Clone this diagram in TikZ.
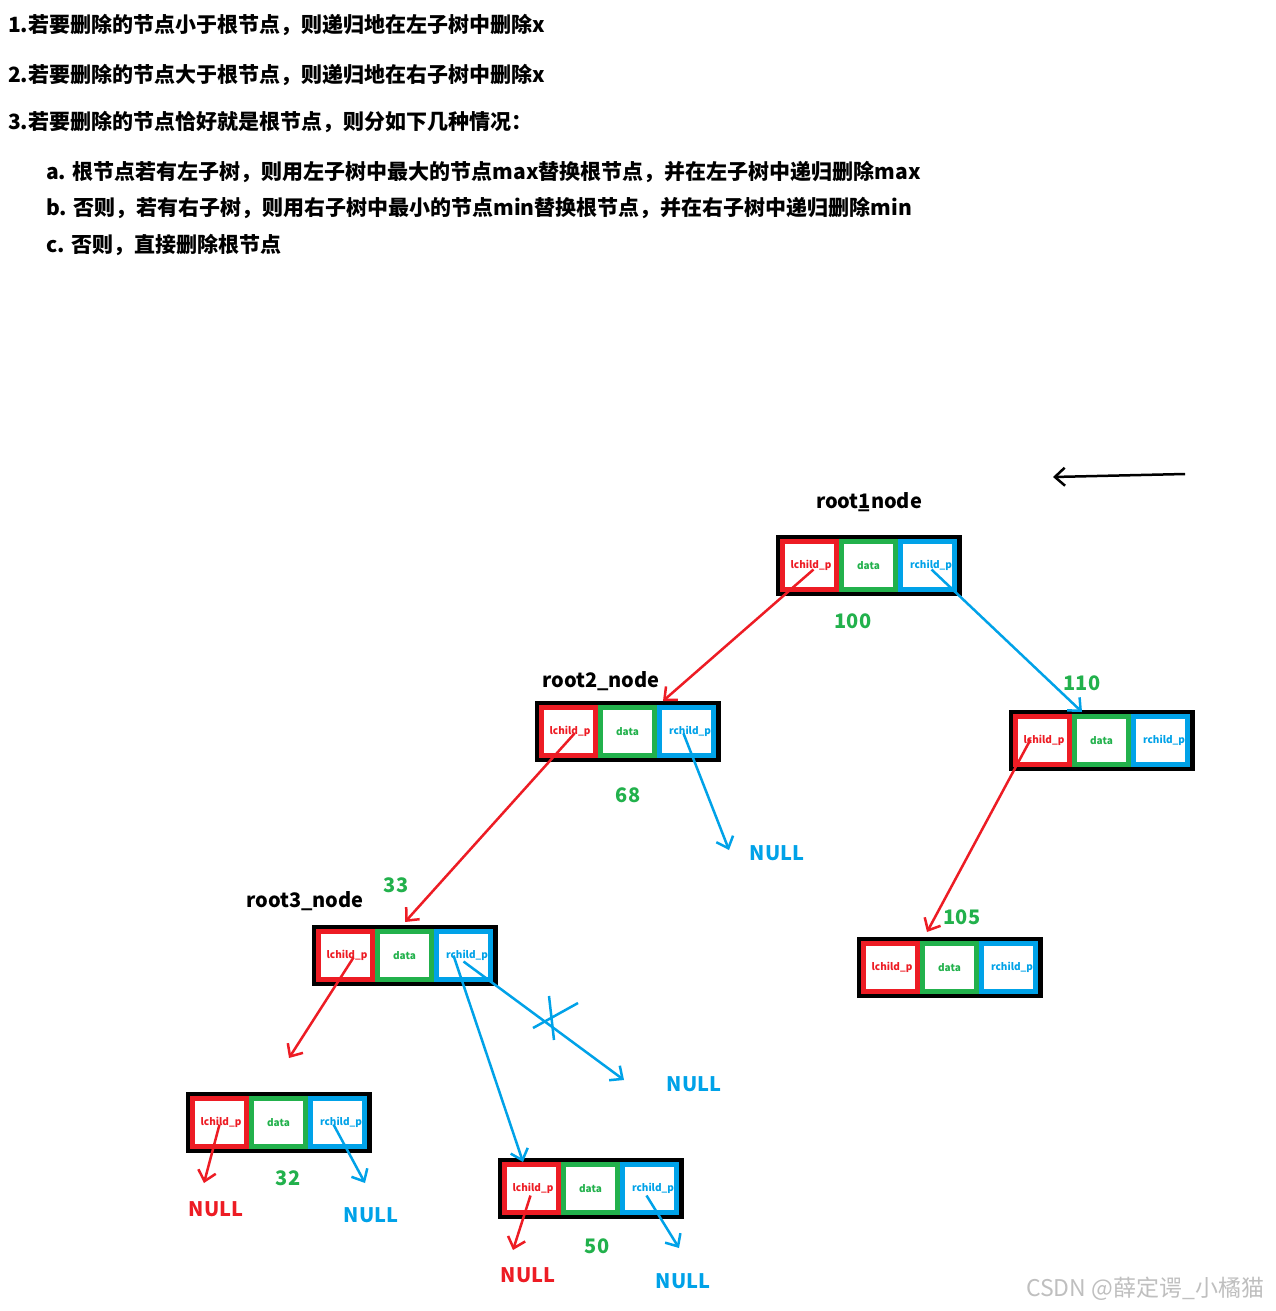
\documentclass[tikz,border=0pt]{standalone}
\usepackage{fontspec}
\setmainfont{Noto Sans CJK SC}
\usetikzlibrary{arrows.meta,calc}
\definecolor{pred}{RGB}{237,28,36}
\definecolor{pgreen}{RGB}{34,177,76}
\definecolor{pblue}{RGB}{0,162,232}
\tikzset{
  outerbox/.style={draw=black,line width=5pt,minimum width=181pt,minimum height=56pt,inner sep=0pt},
  sq/.style={line width=5pt,minimum width=54pt,minimum height=48pt,inner sep=0pt,fill=white,
    font=\fontsize{10}{12}\selectfont\bfseries},
  lsq/.style={sq,draw=pred,text=pred},
  dsq/.style={sq,draw=pgreen,text=pgreen},
  rsq/.style={sq,draw=pblue,text=pblue},
  lab/.style={font=\fontsize{20}{24}\selectfont\bfseries,inner sep=0pt},
  num/.style={lab,text=pgreen},
  rnull/.style={lab,text=pred},
  bnull/.style={lab,text=pblue},
  hdr/.style={font=\fontsize{21}{24}\selectfont\bfseries,inner sep=0pt,anchor=west},
  tip/.style={-{Straight Barb[length=10pt,width=18pt,line width=2.5pt]}},
  ra/.style={draw=pred,line width=2.5pt,tip},
  ba/.style={draw=pblue,line width=2.5pt,tip},
}
\newcommand\treenode[3]{%
  \node[outerbox] (#1) at (#2+93,#3+30.5) {};
  \node[lsq] (#1l) at (#2+33.5,#3+30.5) {\raisebox{-1pt}{\hspace*{3pt}lchild\_p}};
  \node[dsq] (#1d) at (#2+92.5,#3+30.5) {data};
  \node[rsq] (#1r) at (#2+151.5,#3+30.5) {\raisebox{-3pt}{\hspace*{7pt}rchild\_p}};
}
\begin{document}
\begin{tikzpicture}[x=1pt,y=-1pt]
\useasboundingbox[fill=white] (0,0) rectangle (1275,1311);
% header
\node[hdr] (h1) at (8,25) {1.若要删除的节点小于根节点，则递归地在左子树中删除x};
\node[hdr] (h2) at (8,75) {2.若要删除的节点大于根节点，则递归地在右子树中删除x};
\node[hdr] (h3) at (8,122) {3.若要删除的节点恰好就是根节点，则分如下几种情况：};
\node[hdr] (ha) at (46,172) {a. 根节点若有左子树，则用左子树中最大的节点max替换根节点，并在左子树中递归删除max};
\node[hdr] (hb) at (46,208) {b. 否则，若有右子树，则用右子树中最小的节点min替换根节点，并在右子树中递归删除min};
\node[hdr] (hc) at (46,245) {c. 否则，直接删除根节点};
% tree nodes
\treenode{na}{776}{535}
\treenode{nb}{535}{701}
\treenode{nc}{1009}{710}
\treenode{nd}{312}{925}
\treenode{ne}{186}{1092}
\treenode{nf}{498}{1158}
\treenode{ng}{857}{937}
% labels
\node[lab] (la) at (869,502) {root\rlap{\_}1node};
\node[num] (va) at (853,621) {100};
\node[lab] (lb) at (601,681) {root2\_node};
\node[num] (vb) at (628,795) {68};
\node[num] (vc) at (1082,683) {110};
\node[num] (vd) at (396,885) {33};
\node[lab] (ld) at (305,901) {root3\_node};
\node[num] (vg) at (962,917) {105};
\node[num] (ve) at (288,1178) {32};
\node[num] (vf) at (597,1246) {50};
\node[bnull] (n1) at (777,853) {NULL};
\node[bnull] (n2) at (694,1084) {NULL};
\node[rnull] (n3) at (216,1209) {NULL};
\node[bnull] (n4) at (371,1215) {NULL};
\node[rnull] (n5) at (528,1275) {NULL};
\node[bnull] (n6) at (683,1281) {NULL};
% free ends
\coordinate (e1) at (729,850);
\coordinate (e2) at (289,1058);
\coordinate (e3) at (624,1080);
\coordinate (e4) at (204,1183);
\coordinate (e5) at (365,1183);
\coordinate (e6) at (513,1250);
\coordinate (e7) at (679,1248);
\coordinate (t1) at (663,701);
\coordinate (t2) at (1082,712);
\coordinate (t3) at (405,922);
\coordinate (t4) at (523,1162);
\coordinate (t5) at (927,932);
% connectors
\draw[ra] ($(nal)+(4,4)$) -- (t1);
\draw[ba] ($(nar)+(4,4)$) -- (t2);
\draw[ra] ($(nbl)+(6,2)$) -- (t3);
\draw[ba] ($(nbr)+(-3,2)$) -- (e1);
\draw[ra] ($(ncl)+(-12,-1)$) -- (t5);
\draw[ra] ($(ndl)+(8,2)$) -- (e2);
\draw[ba] ($(ndr)+(-10,0)$) -- (t4);
\draw[ba] ($(ndr)+(0,6)$) -- (e3);
\draw[draw=pblue,line width=2.5pt] (549,996) -- (554,1040) (533,1028) -- (578,1003);
\draw[ra] ($(nel)+(0,2)$) -- (e4);
\draw[ba] ($(ner)+(-4,2)$) -- (e5);
\draw[ra] ($(nfl)+(-1,7)$) -- (e6);
\draw[ba] ($(nfr)+(-3,7)$) -- (e7);
% top-right arrow
\coordinate (k1) at (1185,474);
\coordinate (k2) at (1053,477);
\draw[black,line width=2.5pt,tip] (k1) -- (k2);
% watermark
\node[font=\fontsize{23}{26}\selectfont,text=black!25,inner sep=0pt] (wm) at (1145,1289) {CSDN @薛定谔\_小橘猫};
\end{tikzpicture}
\end{document}
